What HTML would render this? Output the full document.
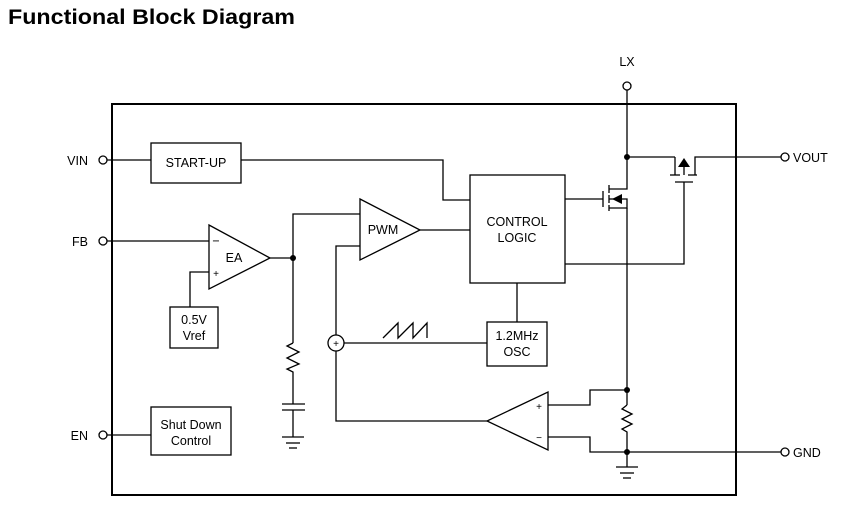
<!DOCTYPE html>
<html><head><style>body{margin:0;background:#fff}svg{display:block}text{font-family:"Liberation Sans",Arial,sans-serif;fill:#000}</style></head>
<body>
<svg width="865" height="514" viewBox="0 0 865 514" xmlns="http://www.w3.org/2000/svg">
<text x="8" y="24" font-size="21" font-weight="bold" textLength="287" lengthAdjust="spacingAndGlyphs">Functional Block Diagram</text>
<g fill="none" stroke="#000" stroke-width="1.3">
<rect x="112" y="104" width="624" height="391" stroke-width="2"/>
<circle cx="103" cy="160" r="4"/><circle cx="103" cy="241" r="4"/><circle cx="103" cy="435" r="4"/>
<circle cx="627" cy="86" r="4"/><circle cx="785" cy="157" r="4"/><circle cx="785" cy="452" r="4"/>
<rect x="151" y="143" width="90" height="40"/>
<line x1="107" y1="160" x2="151" y2="160"/>
<polyline points="241,160 443,160 443,200 470,200"/>
<rect x="470" y="175" width="95" height="108"/>
<polygon points="209,225 209,289 270,258"/>
<line x1="107" y1="241" x2="209" y2="241"/>
<polyline points="209,272 190,272 190,307"/>
<rect x="170" y="307" width="48" height="41"/>
<line x1="270" y1="258" x2="293" y2="258"/>
<polyline points="293,343 293,214 360,214"/>
<polyline points="293,343 287,346 299,352 287,358 299,364 287,369 293,372 293,404"/>
<line x1="282" y1="404" x2="305" y2="404"/><line x1="282" y1="410" x2="305" y2="410"/>
<line x1="293" y1="410" x2="293" y2="437"/>
<line x1="282" y1="437" x2="304" y2="437"/><line x1="286" y1="443" x2="300" y2="443"/><line x1="289" y1="448" x2="297" y2="448"/>
<polygon points="360,199 360,260 420,230"/>
<line x1="420" y1="230" x2="470" y2="230"/>
<polyline points="360,246 336,246 336,335"/>
<circle cx="336" cy="343" r="8"/>
<line x1="344" y1="343" x2="487" y2="343"/>
<polyline points="383,338 398,323 398,338 413,323 413,338 427,323 427,338"/>
<polyline points="336,351 336,421 487,421"/>
<rect x="487" y="322" width="60" height="44"/>
<line x1="517" y1="283" x2="517" y2="322"/>
<rect x="151" y="407" width="80" height="48"/>
<line x1="107" y1="435" x2="151" y2="435"/>
<polygon points="548,392 548,450 487,421"/>
<polyline points="548,405 590,405 590,390 627,390"/>
<polyline points="548,437 590,437 590,452 627,452"/>
<polyline points="627,90 627,189 609,189"/>
<line x1="627" y1="157" x2="675" y2="157"/>
<line x1="675" y1="157" x2="675" y2="175"/>
<line x1="670" y1="175" x2="680" y2="175"/><line x1="688" y1="175" x2="697" y2="175"/>
<line x1="684" y1="165" x2="684" y2="175"/>
<polyline points="695,175 695,157 781,157"/>
<line x1="675" y1="182" x2="693" y2="182"/>
<polyline points="684,182 684,264 565,264"/>
<line x1="565" y1="199" x2="603" y2="199"/>
<line x1="603" y1="191" x2="603" y2="207"/>
<line x1="609" y1="185" x2="609" y2="193"/><line x1="609" y1="195" x2="609" y2="203"/><line x1="609" y1="205" x2="609" y2="211"/>
<line x1="609" y1="199" x2="620" y2="199"/>
<polyline points="609,208 627,208 627,199 620,199"/>
<line x1="627" y1="208" x2="627" y2="405"/>
<polyline points="627,405 622,409 632,414 622,419 632,424 622,429 627,432 627,467"/>
<line x1="627" y1="452" x2="781" y2="452"/>
<line x1="616" y1="467" x2="638" y2="467"/><line x1="620" y1="473" x2="634" y2="473"/><line x1="623" y1="478" x2="631" y2="478"/>
</g>
<g fill="#000">
<polygon points="684,158 678,167 690,167"/>
<polygon points="612,199 622,194 622,204"/>
<circle cx="627" cy="157" r="3"/><circle cx="293" cy="258" r="3"/>
<circle cx="627" cy="390" r="3"/><circle cx="627" cy="452" r="3"/>
</g>
<g font-size="12.5">
<text x="88" y="165" text-anchor="end">VIN</text>
<text x="88" y="246" text-anchor="end">FB</text>
<text x="88" y="440" text-anchor="end">EN</text>
<text x="627" y="66" text-anchor="middle">LX</text>
<text x="793" y="162">VOUT</text>
<text x="793" y="457">GND</text>
<text x="196" y="167" text-anchor="middle">START-UP</text>
<text x="517" y="226" text-anchor="middle">CONTROL</text>
<text x="517" y="242" text-anchor="middle">LOGIC</text>
<text x="234" y="262" text-anchor="middle">EA</text>
<text x="216" y="245" text-anchor="middle">−</text>
<text x="216" y="277" text-anchor="middle" font-size="10">+</text>
<text x="383" y="234" text-anchor="middle">PWM</text>
<text x="194" y="324" text-anchor="middle">0.5V</text>
<text x="194" y="340" text-anchor="middle">Vref</text>
<text x="517" y="340" text-anchor="middle">1.2MHz</text>
<text x="517" y="356" text-anchor="middle">OSC</text>
<text x="191" y="429" text-anchor="middle">Shut Down</text>
<text x="191" y="445" text-anchor="middle">Control</text>
<text x="539" y="410" text-anchor="middle" font-size="10">+</text>
<text x="539" y="441" text-anchor="middle" font-size="10">−</text>
<text x="336" y="347" text-anchor="middle" font-size="10">+</text>
</g>
</svg>
</body></html>
